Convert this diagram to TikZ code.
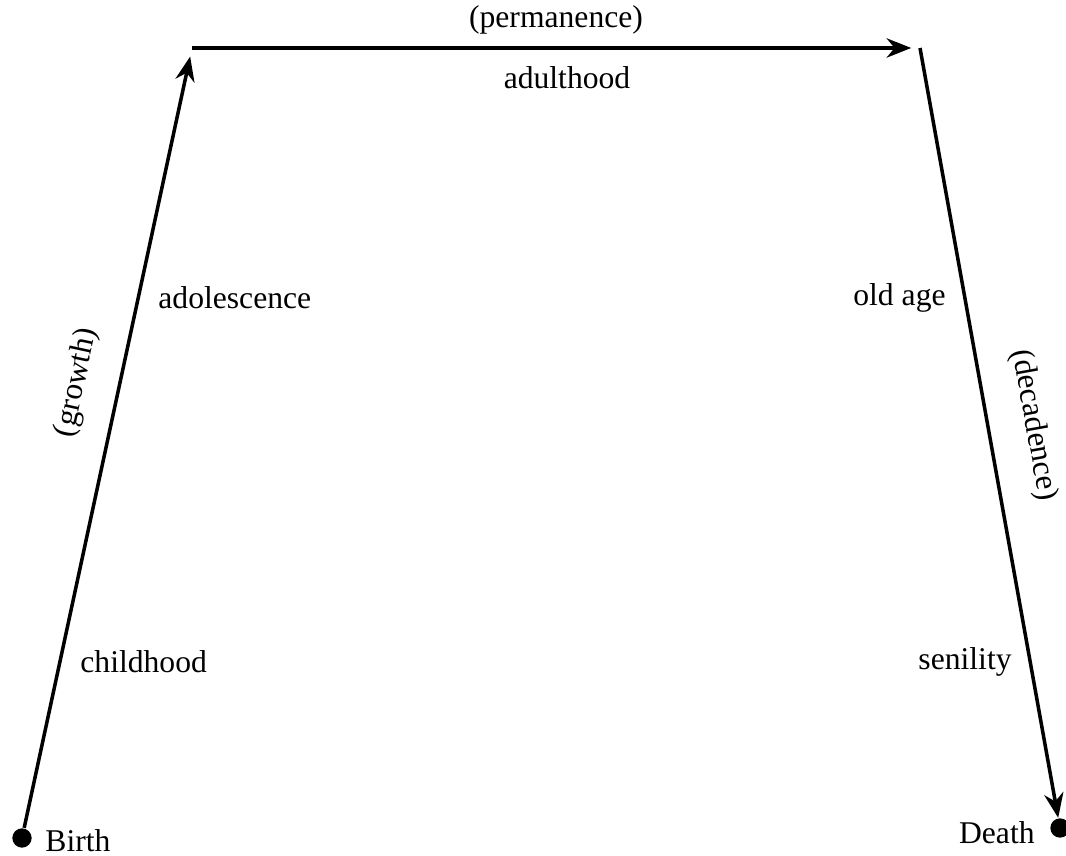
\documentclass[tikz,border=0pt]{standalone}
\usepackage{fontspec}
\setmainfont{Liberation Serif}
\usetikzlibrary{arrows.meta}

\tikzset{
    stage/.style={line width=1pt, -{Stealth[length=7pt, width=5.5pt]}},
    endpoint/.style={circle, fill, inner sep=0pt, minimum size=5.5pt},
}

\begin{document}
\begin{tikzpicture}[font=\fontsize{9}{11}\selectfont]
        \useasboundingbox (0,0) rectangle (10.66,8.55);

        % Extremos y esquinas
        \node[endpoint] (birth) at (0.22,0.17) {};
        \node[endpoint] (death) at (10.60,0.27) {};
        \coordinate (top left) at (1.92,8.07);
        \coordinate (top right) at (9.20,8.07);

        % Tramos de la vida
        \draw[stage, shorten >=2.5pt] (birth) -- (top left)
            node[pos=0.56, sloped, above=4pt] (growth) {(growth)};
        \draw[stage, shorten >=2.5pt] (top left) -- (top right)
            node[midway, above=0pt] (permanence) {(permanence)};
        \draw[stage] (top right) -- (death)
            node[pos=0.5, sloped, above=5pt] (decadence) {(decadence)};

        % Etapas
        \node[anchor=west] (childhood) at (0.68,1.93) {childhood};
        \node[anchor=west] (adolescence) at (1.46,5.57) {adolescence};
        \node (adulthood) at (5.67,7.77) {adulthood};
        \node[anchor=east] (old age) at (9.58,5.57) {old age};
        \node[anchor=east] (senility) at (10.24,1.93) {senility};

        % Nacimiento y muerte
        \node[anchor=west] (birth label) at (0.33,0.14) {Birth};
        \node[anchor=east] (death label) at (10.47,0.22) {Death};
    \end{tikzpicture}
\end{document}
